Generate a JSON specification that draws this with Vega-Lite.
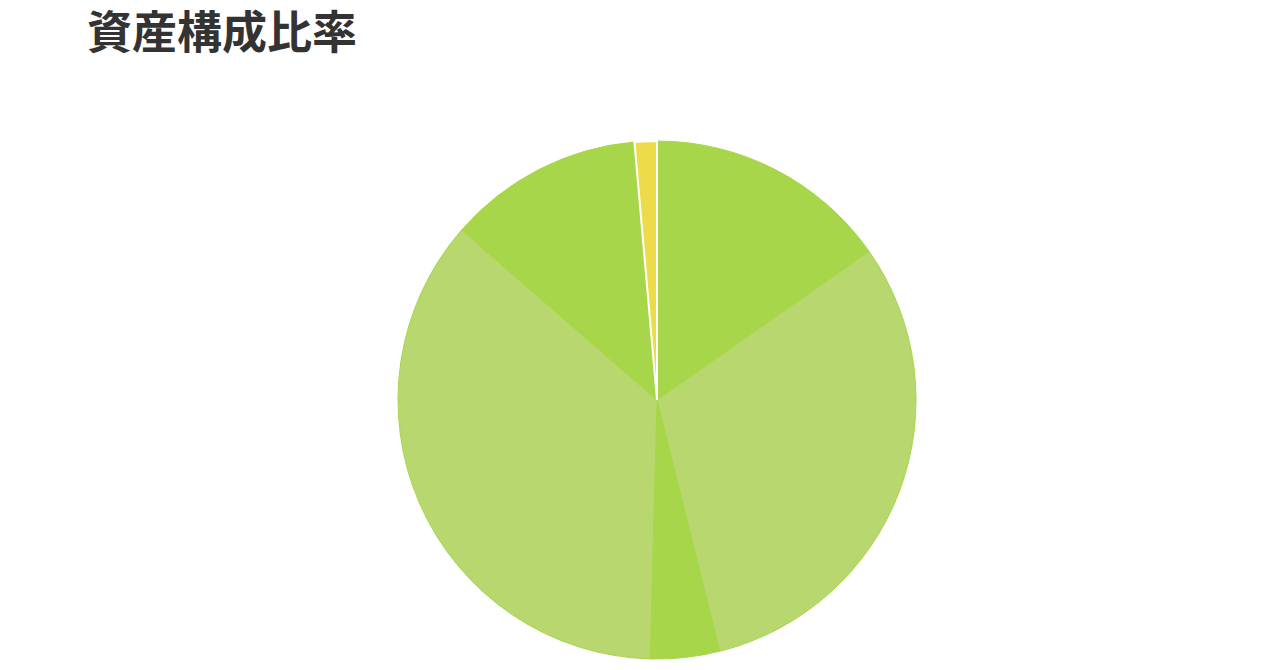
{
  "$schema": "https://vega.github.io/schema/vega-lite/v6.json",
  "width": 1314,
  "height": 540,
  "padding": {"left": 0, "top": 13, "right": 0, "bottom": 0},
  "background": "white",
  "title": {
    "text": "資産構成比率",
    "anchor": "start",
    "dx": 87,
    "offset": 72,
    "font": "Noto Sans CJK JP",
    "fontSize": 45,
    "fontWeight": "bold",
    "color": "#333333"
  },
  "data": {
    "values": [
      {"idx": 1, "asset": "国内株式", "group": "株式", "share": 55},
      {"idx": 2, "asset": "外国債券", "group": "債券", "share": 111},
      {"idx": 3, "asset": "先進国株式", "group": "株式", "share": 15.5},
      {"idx": 4, "asset": "国内債券", "group": "債券", "share": 129.5},
      {"idx": 5, "asset": "新興国株式", "group": "株式", "share": 44},
      {"idx": 6, "asset": "現金", "group": "現金", "share": 5}
    ]
  },
  "mark": {"type": "arc", "outerRadius": 259},
  "encoding": {
    "theta": {"field": "share", "type": "quantitative", "stack": true},
    "order": {"field": "idx", "type": "quantitative"},
    "color": {
      "field": "group",
      "type": "nominal",
      "scale": {"domain": ["株式", "債券", "現金"], "range": ["#a8d64a", "#b8d76e", "#eedb4a"]},
      "legend": null
    },
    "stroke": {
      "condition": {"test": "datum.group === '現金'", "value": "white"},
      "value": "#a8d64a"
    },
    "strokeWidth": {
      "condition": {"test": "datum.group === '現金'", "value": 2},
      "value": 1
    },
    "tooltip": [
      {"field": "asset", "type": "nominal", "title": "資産"},
      {"field": "share", "type": "quantitative", "title": "比率"}
    ]
  },
  "config": {"view": {"stroke": null}}
}
